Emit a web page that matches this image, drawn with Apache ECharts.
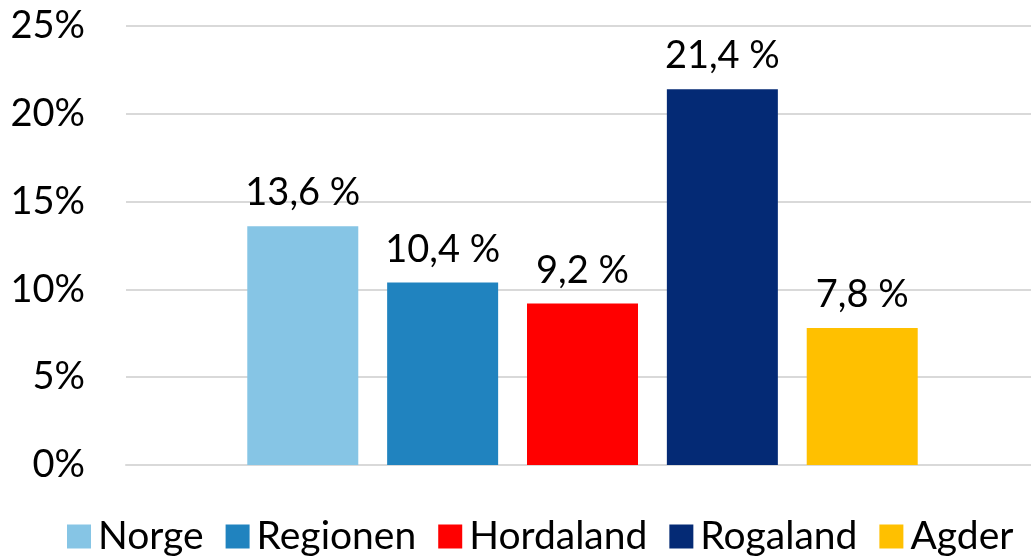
<!DOCTYPE html>
<html>
<head>
    <meta charset="utf-8">
    <style>
        body{
            width: 1031px;
            height: 557px;
            margin: 0;
            padding: 0;
            background: #fff;
        }
        #chart{
            width: 1031px;
            height: 557px;
        }
    </style>
</head>
<body>
    <div id="chart"></div>
    <script src="https://cdn.jsdelivr.net/npm/echarts@6/dist/echarts.min.js"></script>
    <script>
        var regions = ["Norge", "Regionen", "Hordaland", "Rogaland", "Agder"];
        var shares = [13.6, 10.4, 9.2, 21.4, 7.8];
        var colors = ["#86c5e5", "#2083bf", "#ff0000", "#042a75", "#ffc000"];
        var yTicks = [0, 5, 10, 15, 20, 25];

        var font = "Lato";

        var chart = echarts.init(document.getElementById("chart"));

        var series = [];
        for (var i = 0; i < regions.length; i++) {
            series.push({
                name: regions[i],
                type: "bar",
                data: [shares[i]],
                barWidth: 111,
                barGap: "26%",
                itemStyle: { color: colors[i] },
                label: {
                    show: true,
                    position: "top",
                    distance: 14,
                    color: "#000",
                    fontFamily: font,
                    fontSize: 38,
                    formatter: function (p) {
                        return p.value.toFixed(1).replace(".", ",") + " %";
                    }
                }
            });
        }

        var option = {
            animation: false,
            legend: {
                bottom: -4,
                left: 62,
                itemWidth: 24,
                itemHeight: 24,
                itemGap: 22,
                icon: "rect",
                data: regions,
                textStyle: { fontFamily: font, fontSize: 39, color: "#000", padding: [0, 0, 0, 2] }
            },
            grid: { left: 126, right: -8, top: 26, bottom: 92, outerBoundsMode: "none" },
            xAxis: {
                type: "category",
                data: [""],
                axisTick: { show: false },
                axisLabel: { show: false },
                axisLine: { lineStyle: { color: "#d9d9d9", width: 2 } }
            },
            yAxis: {
                type: "value",
                min: yTicks[0],
                max: yTicks[yTicks.length - 1],
                interval: 5,
                axisLine: { show: false },
                axisTick: { show: false },
                splitLine: { lineStyle: { color: "#d9d9d9", width: 2 } },
                axisLabel: {
                    margin: 41,
                    color: "#000",
                    fontFamily: font,
                    fontSize: 38,
                    formatter: "{value}%"
                }
            },
            series: series
        };

        chart.setOption(option);
    </script>
</body>
</html>
